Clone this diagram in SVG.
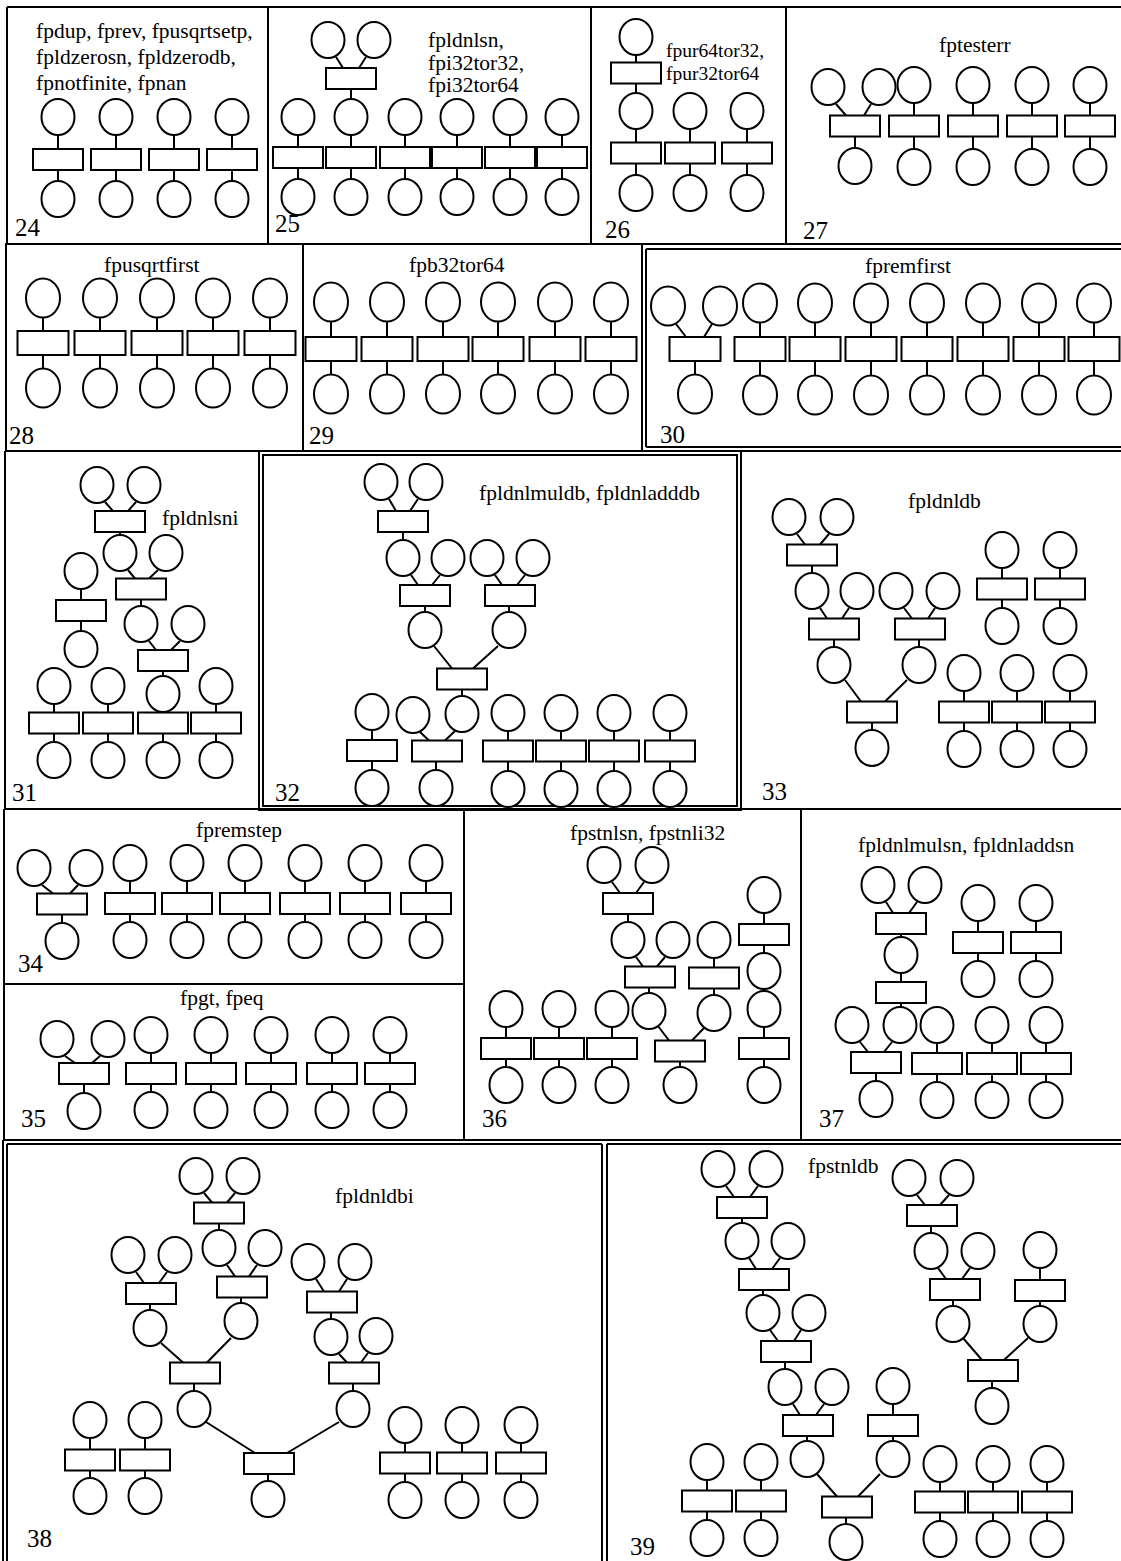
<svg xmlns="http://www.w3.org/2000/svg" xmlns:xlink="http://www.w3.org/1999/xlink" width="1121" height="1561" viewBox="0 0 1121 1561">
<style>
.n use{fill:#fff;stroke:#000;stroke-width:2}
#connectors path,#frame path{fill:none;stroke:#000;stroke-width:2}
text{font-family:"Liberation Serif","Times New Roman",serif;fill:#000}
.lb{font-size:21.5px}
.sm{font-size:19.5px}
.num{font-size:25px}
</style>
<defs>
<ellipse id="c" cx="0" cy="0" rx="16.5" ry="18"/>
<ellipse id="C" cx="0" cy="0" rx="17" ry="19.5"/>
<rect id="r" x="-25" y="-10.5" width="50" height="21"/>
<rect id="R" x="-25.5" y="-12" width="51" height="24"/>
</defs>
<rect x="0" y="0" width="1121" height="1561" fill="#fff"/>
<g id="frame">
<path d="M7 7H1121M7 7V244M268 7V244M591 7V244M786 7V244M5 244H1121"/>
<path d="M6 244V451M303 244V451M642 244V451M646 249V447M646 249H1121M646 447H1121M5 451H1121"/>
<path d="M5 451V809M4 809H1121M259 451V810H741V451M263 455H737V806H263Z"/>
<path d="M4 809V1140M464 809V1140M801 809V1140M4 984H464M3 1140H1121"/>
<path d="M7 1144H602M607 1144H1121M3 1140V1561M7 1144V1561M602 1144V1561M607 1144V1561"/>
</g>
<g id="connectors">
<path d="M58 135V149M58 170V181"/><path d="M116 135V149M116 170V181"/><path d="M174 135V149M174 170V181"/><path d="M232 135V149M232 170V181"/>
<path d="M336 57L343 68M366 57L359 68M351 89V99"/>
<path d="M298 135V147M298 168V179"/><path d="M351 135V147M351 168V179"/><path d="M405 135V147M405 168V179"/><path d="M457 135V147M457 168V179"/><path d="M510 135V147M510 168V179"/><path d="M562 135V147M562 168V179"/>
<path d="M636 55V62.5M636 83.5V93"/>
<path d="M636 129V142.5M636 163.5V175"/><path d="M690 129V142.5M690 163.5V175"/><path d="M747 129V142.5M747 163.5V175"/>
<path d="M836 104L846 115.5M871 104L864 115.5M855 136.5V148"/>
<path d="M914 103V115.5M914 136.5V149"/><path d="M973 103V115.5M973 136.5V149"/><path d="M1032 103V115.5M1032 136.5V149"/><path d="M1090 103V115.5M1090 136.5V149"/>
<path d="M43 317.5V331M43 355V368.5"/><path d="M100 317.5V331M100 355V368.5"/><path d="M157 317.5V331M157 355V368.5"/><path d="M213 317.5V331M213 355V368.5"/><path d="M270 317.5V331M270 355V368.5"/>
<path d="M331 321.5V337M331 361V374.5"/><path d="M387 321.5V337M387 361V374.5"/><path d="M443 321.5V337M443 361V374.5"/><path d="M498 321.5V337M498 361V374.5"/><path d="M555 321.5V337M555 361V374.5"/><path d="M611 321.5V337M611 361V374.5"/>
<path d="M676 324L686 337M712 324L704 337M695 361V374.5"/>
<path d="M760 322.5V337M760 361V375.5"/><path d="M815 322.5V337M815 361V375.5"/><path d="M871 322.5V337M871 361V375.5"/><path d="M927 322.5V337M927 361V375.5"/><path d="M983 322.5V337M983 361V375.5"/><path d="M1039 322.5V337M1039 361V375.5"/><path d="M1094 322.5V337M1094 361V375.5"/>
<path d="M105 502L113 511M136 502L128 511M120 532V535"/>
<path d="M128 570L135 578.5M158 570L149 578.5M141 599.5V606"/>
<path d="M149 641L156 650M180 641L171 650M163 671V676"/>
<path d="M163 712V712.5M163 733.5V742"/>
<path d="M81 589V600M81 621V631"/>
<path d="M54 704V712.5M54 733.5V742"/><path d="M108 704V712.5M108 733.5V742"/><path d="M216 704V712.5M216 733.5V742"/>
<path d="M389 499L396 511M418 499L410 511M403 532V540"/>
<path d="M411 575L418 585M440 575L432 585M425 606V612"/>
<path d="M495 575L502 585M525 575L517 585M509 606V612"/>
<path d="M434 646L452 668.5M498 646L473 668.5M462 689.5V696"/>
<path d="M372 730V740M372 761V770"/>
<path d="M420 732L429 740.5M455 731L445 740.5M436 761.5V770"/>
<path d="M508 731V740.5M508 761.5V771"/><path d="M561 731V740.5M561 761.5V771"/><path d="M614 731V740.5M614 761.5V771"/><path d="M670 731V740.5M670 761.5V771"/>
<path d="M797 534L805 544.5M829 534L820 544.5M812 565.5V573"/>
<path d="M820 608L827 618.5M849 608L842 618.5M834 639.5V647"/>
<path d="M904 608L912 618.5M935 608L928 618.5M919 639.5V647"/>
<path d="M845 680L861 701.5M907 680L885 701.5M872 722.5V730"/>
<path d="M1002 568V578.5M1002 599.5V608"/><path d="M1060 568V578.5M1060 599.5V608"/>
<path d="M964 691V701.5M964 722.5V731"/><path d="M1017 691V701.5M1017 722.5V731"/><path d="M1070 691V701.5M1070 722.5V731"/>
<path d="M42 885L53 893.5M78 885L70 893.5M62 914.5V923"/>
<path d="M130 881V893M130 914V922"/><path d="M187 881V893M187 914V922"/><path d="M245 881V893M245 914V922"/><path d="M305 881V893M305 914V922"/><path d="M365 881V893M365 914V922"/><path d="M426 881V893M426 914V922"/>
<path d="M65 1056L75 1063M100 1056L92 1063M84 1084V1093"/>
<path d="M151 1053V1063M151 1084V1092"/><path d="M211 1053V1063M211 1084V1092"/><path d="M271 1053V1063M271 1084V1092"/><path d="M332 1053V1063M332 1084V1092"/><path d="M390 1053V1063M390 1084V1092"/>
<path d="M612 882L620 893M644 882L636 893M628 914V922"/>
<path d="M636 957L643 966.5M665 957L657 966.5M649 987.5V993"/>
<path d="M714 958V967.5M714 988.5V995"/>
<path d="M658 1026L669 1040.5M704 1028L692 1040.5M680 1061.5V1067"/>
<path d="M764 913V924M764 945V953"/>
<path d="M506 1027V1038M506 1059V1067"/><path d="M559 1027V1038M559 1059V1067"/><path d="M612 1027V1038M612 1059V1067"/><path d="M764 1027V1038M764 1059V1067"/>
<path d="M886 902L893 913M917 902L909 913M901 934V937"/>
<path d="M901 973V982M901 1003V1007"/>
<path d="M860 1042L868 1052M892 1042L884 1052M876 1073V1081"/>
<path d="M978 921V932M978 953V961"/><path d="M1036 921V932M1036 953V961"/>
<path d="M937 1043V1053M937 1074V1082"/><path d="M992 1043V1053M992 1074V1082"/><path d="M1046 1043V1053M1046 1074V1082"/>
<path d="M204 1193L212 1202.5M235 1193L227 1202.5M219 1223.5V1230"/>
<path d="M227 1265L235 1276.5M257 1265L249 1276.5M241 1297.5V1303"/>
<path d="M136 1272L144 1283M167 1272L159 1283M150 1304V1310"/>
<path d="M161 1343L183 1362.5M231 1338L207 1362.5M194 1383.5V1391"/>
<path d="M316 1279L324 1291.5M347 1279L339 1291.5M331 1312.5V1319"/>
<path d="M339 1354L347 1362.5M368 1353L361 1362.5M353 1383.5V1391"/>
<path d="M206 1422L255 1453M339 1422L287 1453M268 1474V1481"/>
<path d="M90 1438V1449.5M90 1470.5V1478"/><path d="M145 1438V1449.5M145 1470.5V1478"/>
<path d="M405 1443V1452.5M405 1473.5V1482"/><path d="M462 1443V1452.5M462 1473.5V1482"/><path d="M521 1443V1452.5M521 1473.5V1482"/>
<path d="M726 1186L734 1197M758 1186L750 1197M742 1218V1223"/>
<path d="M749 1258L756 1269M780 1258L772 1269M763 1290V1295"/>
<path d="M770 1330L778 1341M801 1330L794 1341M785 1362V1369"/>
<path d="M793 1404L800 1415M824 1404L816 1415M807 1436V1441"/>
<path d="M893 1404V1415M893 1436V1441"/>
<path d="M817 1474L837 1496.5M880 1474L858 1496.5M846 1517.5V1524"/>
<path d="M917 1195L925 1205M949 1195L940 1205M931 1226V1233"/>
<path d="M938 1268L946 1279M970 1268L962 1279M953 1300V1306"/>
<path d="M1040 1268V1280M1040 1301V1306"/>
<path d="M963 1338L982 1360M1028 1338L1004 1360M992 1381V1388"/>
<path d="M707 1480V1490.5M707 1511.5V1520"/><path d="M761 1480V1490.5M761 1511.5V1520"/>
<path d="M940 1482V1491.5M940 1512.5V1521"/><path d="M993 1482V1491.5M993 1512.5V1521"/><path d="M1047 1482V1491.5M1047 1512.5V1521"/>
</g>
<g id="p24" class="n">
<g id="p24n1"><use href="#c" x="58" y="117"/></g><g id="p24n2"><use href="#r" x="58" y="159.5"/></g><g id="p24n3"><use href="#c" x="58" y="199"/></g>
<g id="p24n4"><use href="#c" x="116" y="117"/></g><g id="p24n5"><use href="#r" x="116" y="159.5"/></g><g id="p24n6"><use href="#c" x="116" y="199"/></g>
<g id="p24n7"><use href="#c" x="174" y="117"/></g><g id="p24n8"><use href="#r" x="174" y="159.5"/></g><g id="p24n9"><use href="#c" x="174" y="199"/></g>
<g id="p24n10"><use href="#c" x="232" y="117"/></g><g id="p24n11"><use href="#r" x="232" y="159.5"/></g><g id="p24n12"><use href="#c" x="232" y="199"/></g>
</g>
<g id="p25" class="n">
<g id="p25n1"><use href="#c" x="328" y="40"/></g><g id="p25n2"><use href="#c" x="374" y="40"/></g><g id="p25n3"><use href="#r" x="351" y="78.5"/></g>
<g id="p25n4"><use href="#c" x="298" y="117"/></g><g id="p25n5"><use href="#r" x="298" y="157.5"/></g><g id="p25n6"><use href="#c" x="298" y="197"/></g>
<g id="p25n7"><use href="#c" x="351" y="117"/></g><g id="p25n8"><use href="#r" x="351" y="157.5"/></g><g id="p25n9"><use href="#c" x="351" y="197"/></g>
<g id="p25n10"><use href="#c" x="405" y="117"/></g><g id="p25n11"><use href="#r" x="405" y="157.5"/></g><g id="p25n12"><use href="#c" x="405" y="197"/></g>
<g id="p25n13"><use href="#c" x="457" y="117"/></g><g id="p25n14"><use href="#r" x="457" y="157.5"/></g><g id="p25n15"><use href="#c" x="457" y="197"/></g>
<g id="p25n16"><use href="#c" x="510" y="117"/></g><g id="p25n17"><use href="#r" x="510" y="157.5"/></g><g id="p25n18"><use href="#c" x="510" y="197"/></g>
<g id="p25n19"><use href="#c" x="562" y="117"/></g><g id="p25n20"><use href="#r" x="562" y="157.5"/></g><g id="p25n21"><use href="#c" x="562" y="197"/></g>
</g>
<g id="p26" class="n">
<g id="p26n1"><use href="#c" x="636" y="37"/></g><g id="p26n2"><use href="#r" x="636" y="73"/></g>
<g id="p26n3"><use href="#c" x="636" y="111"/></g><g id="p26n4"><use href="#r" x="636" y="153"/></g><g id="p26n5"><use href="#c" x="636" y="193"/></g>
<g id="p26n6"><use href="#c" x="690" y="111"/></g><g id="p26n7"><use href="#r" x="690" y="153"/></g><g id="p26n8"><use href="#c" x="690" y="193"/></g>
<g id="p26n9"><use href="#c" x="747" y="111"/></g><g id="p26n10"><use href="#r" x="747" y="153"/></g><g id="p26n11"><use href="#c" x="747" y="193"/></g>
</g>
<g id="p27" class="n">
<g id="p27n1"><use href="#c" x="828" y="87"/></g><g id="p27n2"><use href="#c" x="879" y="87"/></g><g id="p27n3"><use href="#r" x="855" y="126"/></g><g id="p27n4"><use href="#c" x="855" y="166"/></g>
<g id="p27n5"><use href="#c" x="914" y="85"/></g><g id="p27n6"><use href="#r" x="914" y="126"/></g><g id="p27n7"><use href="#c" x="914" y="167"/></g>
<g id="p27n8"><use href="#c" x="973" y="85"/></g><g id="p27n9"><use href="#r" x="973" y="126"/></g><g id="p27n10"><use href="#c" x="973" y="167"/></g>
<g id="p27n11"><use href="#c" x="1032" y="85"/></g><g id="p27n12"><use href="#r" x="1032" y="126"/></g><g id="p27n13"><use href="#c" x="1032" y="167"/></g>
<g id="p27n14"><use href="#c" x="1090" y="85"/></g><g id="p27n15"><use href="#r" x="1090" y="126"/></g><g id="p27n16"><use href="#c" x="1090" y="167"/></g>
</g>
<g id="p28" class="n">
<g id="p28n1"><use href="#C" x="43" y="298"/></g><g id="p28n2"><use href="#R" x="43" y="343"/></g><g id="p28n3"><use href="#C" x="43" y="388"/></g>
<g id="p28n4"><use href="#C" x="100" y="298"/></g><g id="p28n5"><use href="#R" x="100" y="343"/></g><g id="p28n6"><use href="#C" x="100" y="388"/></g>
<g id="p28n7"><use href="#C" x="157" y="298"/></g><g id="p28n8"><use href="#R" x="157" y="343"/></g><g id="p28n9"><use href="#C" x="157" y="388"/></g>
<g id="p28n10"><use href="#C" x="213" y="298"/></g><g id="p28n11"><use href="#R" x="213" y="343"/></g><g id="p28n12"><use href="#C" x="213" y="388"/></g>
<g id="p28n13"><use href="#C" x="270" y="298"/></g><g id="p28n14"><use href="#R" x="270" y="343"/></g><g id="p28n15"><use href="#C" x="270" y="388"/></g>
</g>
<g id="p29" class="n">
<g id="p29n1"><use href="#C" x="331" y="302"/></g><g id="p29n2"><use href="#R" x="331" y="349"/></g><g id="p29n3"><use href="#C" x="331" y="394"/></g>
<g id="p29n4"><use href="#C" x="387" y="302"/></g><g id="p29n5"><use href="#R" x="387" y="349"/></g><g id="p29n6"><use href="#C" x="387" y="394"/></g>
<g id="p29n7"><use href="#C" x="443" y="302"/></g><g id="p29n8"><use href="#R" x="443" y="349"/></g><g id="p29n9"><use href="#C" x="443" y="394"/></g>
<g id="p29n10"><use href="#C" x="498" y="302"/></g><g id="p29n11"><use href="#R" x="498" y="349"/></g><g id="p29n12"><use href="#C" x="498" y="394"/></g>
<g id="p29n13"><use href="#C" x="555" y="302"/></g><g id="p29n14"><use href="#R" x="555" y="349"/></g><g id="p29n15"><use href="#C" x="555" y="394"/></g>
<g id="p29n16"><use href="#C" x="611" y="302"/></g><g id="p29n17"><use href="#R" x="611" y="349"/></g><g id="p29n18"><use href="#C" x="611" y="394"/></g>
</g>
<g id="p30" class="n">
<g id="p30n1"><use href="#C" x="668" y="306"/></g><g id="p30n2"><use href="#C" x="720" y="306"/></g><g id="p30n3"><use href="#R" x="695" y="349"/></g><g id="p30n4"><use href="#C" x="695" y="394"/></g>
<g id="p30n5"><use href="#C" x="760" y="303"/></g><g id="p30n6"><use href="#R" x="760" y="349"/></g><g id="p30n7"><use href="#C" x="760" y="395"/></g>
<g id="p30n8"><use href="#C" x="815" y="303"/></g><g id="p30n9"><use href="#R" x="815" y="349"/></g><g id="p30n10"><use href="#C" x="815" y="395"/></g>
<g id="p30n11"><use href="#C" x="871" y="303"/></g><g id="p30n12"><use href="#R" x="871" y="349"/></g><g id="p30n13"><use href="#C" x="871" y="395"/></g>
<g id="p30n14"><use href="#C" x="927" y="303"/></g><g id="p30n15"><use href="#R" x="927" y="349"/></g><g id="p30n16"><use href="#C" x="927" y="395"/></g>
<g id="p30n17"><use href="#C" x="983" y="303"/></g><g id="p30n18"><use href="#R" x="983" y="349"/></g><g id="p30n19"><use href="#C" x="983" y="395"/></g>
<g id="p30n20"><use href="#C" x="1039" y="303"/></g><g id="p30n21"><use href="#R" x="1039" y="349"/></g><g id="p30n22"><use href="#C" x="1039" y="395"/></g>
<g id="p30n23"><use href="#C" x="1094" y="303"/></g><g id="p30n24"><use href="#R" x="1094" y="349"/></g><g id="p30n25"><use href="#C" x="1094" y="395"/></g>
</g>
<g id="p31" class="n">
<g id="p31n1"><use href="#c" x="97" y="485"/></g><g id="p31n2"><use href="#c" x="144" y="485"/></g><g id="p31n3"><use href="#r" x="120" y="521.5"/></g>
<g id="p31n4"><use href="#c" x="120" y="553"/></g><g id="p31n5"><use href="#c" x="166" y="553"/></g><g id="p31n6"><use href="#r" x="141" y="589"/></g>
<g id="p31n7"><use href="#c" x="141" y="624"/></g><g id="p31n8"><use href="#c" x="188" y="624"/></g><g id="p31n9"><use href="#r" x="163" y="660.5"/></g>
<g id="p31n10"><use href="#c" x="163" y="694"/></g><g id="p31n11"><use href="#r" x="163" y="723"/></g><g id="p31n12"><use href="#c" x="163" y="760"/></g>
<g id="p31n13"><use href="#c" x="81" y="571"/></g><g id="p31n14"><use href="#r" x="81" y="610.5"/></g><g id="p31n15"><use href="#c" x="81" y="649"/></g>
<g id="p31n16"><use href="#c" x="54" y="686"/></g><g id="p31n17"><use href="#r" x="54" y="723"/></g><g id="p31n18"><use href="#c" x="54" y="760"/></g>
<g id="p31n19"><use href="#c" x="108" y="686"/></g><g id="p31n20"><use href="#r" x="108" y="723"/></g><g id="p31n21"><use href="#c" x="108" y="760"/></g>
<g id="p31n22"><use href="#c" x="216" y="686"/></g><g id="p31n23"><use href="#r" x="216" y="723"/></g><g id="p31n24"><use href="#c" x="216" y="760"/></g>
</g>
<g id="p32" class="n">
<g id="p32n1"><use href="#c" x="381" y="482"/></g><g id="p32n2"><use href="#c" x="426" y="482"/></g><g id="p32n3"><use href="#r" x="403" y="521.5"/></g>
<g id="p32n4"><use href="#c" x="403" y="558"/></g><g id="p32n5"><use href="#c" x="448" y="558"/></g><g id="p32n6"><use href="#r" x="425" y="595.5"/></g><g id="p32n7"><use href="#c" x="425" y="630"/></g>
<g id="p32n8"><use href="#c" x="487" y="558"/></g><g id="p32n9"><use href="#c" x="533" y="558"/></g><g id="p32n10"><use href="#r" x="510" y="595.5"/></g><g id="p32n11"><use href="#c" x="509" y="630"/></g>
<g id="p32n12"><use href="#r" x="462" y="679"/></g><g id="p32n13"><use href="#c" x="462" y="714"/></g>
<g id="p32n14"><use href="#c" x="372" y="712"/></g><g id="p32n15"><use href="#r" x="372" y="750.5"/></g><g id="p32n16"><use href="#c" x="372" y="788"/></g>
<g id="p32n17"><use href="#c" x="413" y="715"/></g><g id="p32n18"><use href="#r" x="437" y="751"/></g><g id="p32n19"><use href="#c" x="436" y="788"/></g>
<g id="p32n20"><use href="#c" x="508" y="713"/></g><g id="p32n21"><use href="#r" x="508" y="751"/></g><g id="p32n22"><use href="#c" x="508" y="789"/></g>
<g id="p32n23"><use href="#c" x="561" y="713"/></g><g id="p32n24"><use href="#r" x="561" y="751"/></g><g id="p32n25"><use href="#c" x="561" y="789"/></g>
<g id="p32n26"><use href="#c" x="614" y="713"/></g><g id="p32n27"><use href="#r" x="614" y="751"/></g><g id="p32n28"><use href="#c" x="614" y="789"/></g>
<g id="p32n29"><use href="#c" x="670" y="713"/></g><g id="p32n30"><use href="#r" x="670" y="751"/></g><g id="p32n31"><use href="#c" x="670" y="789"/></g>
</g>
<g id="p33" class="n">
<g id="p33n1"><use href="#c" x="789" y="517"/></g><g id="p33n2"><use href="#c" x="837" y="517"/></g><g id="p33n3"><use href="#r" x="812" y="555"/></g>
<g id="p33n4"><use href="#c" x="812" y="591"/></g><g id="p33n5"><use href="#c" x="857" y="591"/></g><g id="p33n6"><use href="#r" x="834" y="629"/></g><g id="p33n7"><use href="#c" x="834" y="665"/></g>
<g id="p33n8"><use href="#c" x="896" y="591"/></g><g id="p33n9"><use href="#c" x="943" y="591"/></g><g id="p33n10"><use href="#r" x="920" y="629"/></g><g id="p33n11"><use href="#c" x="919" y="665"/></g>
<g id="p33n12"><use href="#r" x="872" y="712"/></g><g id="p33n13"><use href="#c" x="872" y="748"/></g>
<g id="p33n14"><use href="#c" x="1002" y="550"/></g><g id="p33n15"><use href="#r" x="1002" y="589"/></g><g id="p33n16"><use href="#c" x="1002" y="626"/></g>
<g id="p33n17"><use href="#c" x="1060" y="550"/></g><g id="p33n18"><use href="#r" x="1060" y="589"/></g><g id="p33n19"><use href="#c" x="1060" y="626"/></g>
<g id="p33n20"><use href="#c" x="964" y="673"/></g><g id="p33n21"><use href="#r" x="964" y="712"/></g><g id="p33n22"><use href="#c" x="964" y="749"/></g>
<g id="p33n23"><use href="#c" x="1017" y="673"/></g><g id="p33n24"><use href="#r" x="1017" y="712"/></g><g id="p33n25"><use href="#c" x="1017" y="749"/></g>
<g id="p33n26"><use href="#c" x="1070" y="673"/></g><g id="p33n27"><use href="#r" x="1070" y="712"/></g><g id="p33n28"><use href="#c" x="1070" y="749"/></g>
</g>
<g id="p34" class="n">
<g id="p34n1"><use href="#c" x="34" y="868"/></g><g id="p34n2"><use href="#c" x="86" y="868"/></g><g id="p34n3"><use href="#r" x="62" y="904"/></g><g id="p34n4"><use href="#c" x="62" y="941"/></g>
<g id="p34n5"><use href="#c" x="130" y="863"/></g><g id="p34n6"><use href="#r" x="130" y="903.5"/></g><g id="p34n7"><use href="#c" x="130" y="940"/></g>
<g id="p34n8"><use href="#c" x="187" y="863"/></g><g id="p34n9"><use href="#r" x="187" y="903.5"/></g><g id="p34n10"><use href="#c" x="187" y="940"/></g>
<g id="p34n11"><use href="#c" x="245" y="863"/></g><g id="p34n12"><use href="#r" x="245" y="903.5"/></g><g id="p34n13"><use href="#c" x="245" y="940"/></g>
<g id="p34n14"><use href="#c" x="305" y="863"/></g><g id="p34n15"><use href="#r" x="305" y="903.5"/></g><g id="p34n16"><use href="#c" x="305" y="940"/></g>
<g id="p34n17"><use href="#c" x="365" y="863"/></g><g id="p34n18"><use href="#r" x="365" y="903.5"/></g><g id="p34n19"><use href="#c" x="365" y="940"/></g>
<g id="p34n20"><use href="#c" x="426" y="863"/></g><g id="p34n21"><use href="#r" x="426" y="903.5"/></g><g id="p34n22"><use href="#c" x="426" y="940"/></g>
</g>
<g id="p35" class="n">
<g id="p35n1"><use href="#c" x="57" y="1039"/></g><g id="p35n2"><use href="#c" x="108" y="1039"/></g><g id="p35n3"><use href="#r" x="84" y="1073.5"/></g><g id="p35n4"><use href="#c" x="84" y="1111"/></g>
<g id="p35n5"><use href="#c" x="151" y="1035"/></g><g id="p35n6"><use href="#r" x="151" y="1073.5"/></g><g id="p35n7"><use href="#c" x="151" y="1110"/></g>
<g id="p35n8"><use href="#c" x="211" y="1035"/></g><g id="p35n9"><use href="#r" x="211" y="1073.5"/></g><g id="p35n10"><use href="#c" x="211" y="1110"/></g>
<g id="p35n11"><use href="#c" x="271" y="1035"/></g><g id="p35n12"><use href="#r" x="271" y="1073.5"/></g><g id="p35n13"><use href="#c" x="271" y="1110"/></g>
<g id="p35n14"><use href="#c" x="332" y="1035"/></g><g id="p35n15"><use href="#r" x="332" y="1073.5"/></g><g id="p35n16"><use href="#c" x="332" y="1110"/></g>
<g id="p35n17"><use href="#c" x="390" y="1035"/></g><g id="p35n18"><use href="#r" x="390" y="1073.5"/></g><g id="p35n19"><use href="#c" x="390" y="1110"/></g>
</g>
<g id="p36" class="n">
<g id="p36n1"><use href="#c" x="604" y="865"/></g><g id="p36n2"><use href="#c" x="652" y="865"/></g><g id="p36n3"><use href="#r" x="628" y="903.5"/></g>
<g id="p36n4"><use href="#c" x="628" y="940"/></g><g id="p36n5"><use href="#c" x="673" y="940"/></g><g id="p36n6"><use href="#r" x="650" y="977"/></g><g id="p36n7"><use href="#c" x="649" y="1011"/></g>
<g id="p36n8"><use href="#c" x="714" y="940"/></g><g id="p36n9"><use href="#r" x="714" y="978"/></g><g id="p36n10"><use href="#c" x="714" y="1013"/></g>
<g id="p36n11"><use href="#r" x="680" y="1051"/></g><g id="p36n12"><use href="#c" x="680" y="1085"/></g>
<g id="p36n13"><use href="#c" x="764" y="895"/></g><g id="p36n14"><use href="#r" x="764" y="934.5"/></g><g id="p36n15"><use href="#c" x="764" y="971"/></g>
<g id="p36n16"><use href="#c" x="506" y="1009"/></g><g id="p36n17"><use href="#r" x="506" y="1048.5"/></g><g id="p36n18"><use href="#c" x="506" y="1085"/></g>
<g id="p36n19"><use href="#c" x="559" y="1009"/></g><g id="p36n20"><use href="#r" x="559" y="1048.5"/></g><g id="p36n21"><use href="#c" x="559" y="1085"/></g>
<g id="p36n22"><use href="#c" x="612" y="1009"/></g><g id="p36n23"><use href="#r" x="612" y="1048.5"/></g><g id="p36n24"><use href="#c" x="612" y="1085"/></g>
<g id="p36n25"><use href="#c" x="764" y="1009"/></g><g id="p36n26"><use href="#r" x="764" y="1048.5"/></g><g id="p36n27"><use href="#c" x="764" y="1085"/></g>
</g>
<g id="p37" class="n">
<g id="p37n1"><use href="#c" x="878" y="885"/></g><g id="p37n2"><use href="#c" x="925" y="885"/></g><g id="p37n3"><use href="#r" x="901" y="923.5"/></g>
<g id="p37n4"><use href="#c" x="901" y="955"/></g><g id="p37n5"><use href="#r" x="901" y="992.5"/></g><g id="p37n6"><use href="#c" x="900" y="1025"/></g>
<g id="p37n7"><use href="#c" x="852" y="1025"/></g><g id="p37n8"><use href="#r" x="876" y="1062.5"/></g><g id="p37n9"><use href="#c" x="876" y="1099"/></g>
<g id="p37n10"><use href="#c" x="978" y="903"/></g><g id="p37n11"><use href="#r" x="978" y="942.5"/></g><g id="p37n12"><use href="#c" x="978" y="979"/></g>
<g id="p37n13"><use href="#c" x="1036" y="903"/></g><g id="p37n14"><use href="#r" x="1036" y="942.5"/></g><g id="p37n15"><use href="#c" x="1036" y="979"/></g>
<g id="p37n16"><use href="#c" x="937" y="1025"/></g><g id="p37n17"><use href="#r" x="937" y="1063.5"/></g><g id="p37n18"><use href="#c" x="937" y="1100"/></g>
<g id="p37n19"><use href="#c" x="992" y="1025"/></g><g id="p37n20"><use href="#r" x="992" y="1063.5"/></g><g id="p37n21"><use href="#c" x="992" y="1100"/></g>
<g id="p37n22"><use href="#c" x="1046" y="1025"/></g><g id="p37n23"><use href="#r" x="1046" y="1063.5"/></g><g id="p37n24"><use href="#c" x="1046" y="1100"/></g>
</g>
<g id="p38" class="n">
<g id="p38n1"><use href="#c" x="196" y="1176"/></g><g id="p38n2"><use href="#c" x="243" y="1176"/></g><g id="p38n3"><use href="#r" x="219" y="1213"/></g>
<g id="p38n4"><use href="#c" x="219" y="1248"/></g><g id="p38n5"><use href="#c" x="265" y="1248"/></g><g id="p38n6"><use href="#r" x="242" y="1287"/></g><g id="p38n7"><use href="#c" x="241" y="1321"/></g>
<g id="p38n8"><use href="#c" x="128" y="1255"/></g><g id="p38n9"><use href="#c" x="175" y="1255"/></g><g id="p38n10"><use href="#r" x="151" y="1293.5"/></g><g id="p38n11"><use href="#c" x="150" y="1328"/></g>
<g id="p38n12"><use href="#r" x="195" y="1373"/></g><g id="p38n13"><use href="#c" x="194" y="1409"/></g>
<g id="p38n14"><use href="#c" x="308" y="1262"/></g><g id="p38n15"><use href="#c" x="355" y="1262"/></g><g id="p38n16"><use href="#r" x="332" y="1302"/></g><g id="p38n17"><use href="#c" x="331" y="1337"/></g>
<g id="p38n18"><use href="#c" x="376" y="1336"/></g><g id="p38n19"><use href="#r" x="354" y="1373"/></g><g id="p38n20"><use href="#c" x="353" y="1409"/></g>
<g id="p38n21"><use href="#r" x="269" y="1463.5"/></g><g id="p38n22"><use href="#c" x="268" y="1499"/></g>
<g id="p38n23"><use href="#c" x="90" y="1420"/></g><g id="p38n24"><use href="#r" x="90" y="1460"/></g><g id="p38n25"><use href="#c" x="90" y="1496"/></g>
<g id="p38n26"><use href="#c" x="145" y="1420"/></g><g id="p38n27"><use href="#r" x="145" y="1460"/></g><g id="p38n28"><use href="#c" x="145" y="1496"/></g>
<g id="p38n29"><use href="#c" x="405" y="1425"/></g><g id="p38n30"><use href="#r" x="405" y="1463"/></g><g id="p38n31"><use href="#c" x="405" y="1500"/></g>
<g id="p38n32"><use href="#c" x="462" y="1425"/></g><g id="p38n33"><use href="#r" x="462" y="1463"/></g><g id="p38n34"><use href="#c" x="462" y="1500"/></g>
<g id="p38n35"><use href="#c" x="521" y="1425"/></g><g id="p38n36"><use href="#r" x="521" y="1463"/></g><g id="p38n37"><use href="#c" x="521" y="1500"/></g>
</g>
<g id="p39" class="n">
<g id="p39n1"><use href="#c" x="718" y="1169"/></g><g id="p39n2"><use href="#c" x="766" y="1169"/></g><g id="p39n3"><use href="#r" x="742" y="1207.5"/></g>
<g id="p39n4"><use href="#c" x="742" y="1241"/></g><g id="p39n5"><use href="#c" x="788" y="1241"/></g><g id="p39n6"><use href="#r" x="764" y="1279.5"/></g>
<g id="p39n7"><use href="#c" x="763" y="1313"/></g><g id="p39n8"><use href="#c" x="809" y="1313"/></g><g id="p39n9"><use href="#r" x="786" y="1351.5"/></g>
<g id="p39n10"><use href="#c" x="785" y="1387"/></g><g id="p39n11"><use href="#c" x="832" y="1387"/></g><g id="p39n12"><use href="#r" x="808" y="1425.5"/></g><g id="p39n13"><use href="#c" x="807" y="1459"/></g>
<g id="p39n14"><use href="#c" x="893" y="1386"/></g><g id="p39n15"><use href="#r" x="893" y="1425.5"/></g><g id="p39n16"><use href="#c" x="893" y="1459"/></g>
<g id="p39n17"><use href="#r" x="847" y="1507"/></g><g id="p39n18"><use href="#c" x="846" y="1542"/></g>
<g id="p39n19"><use href="#c" x="909" y="1178"/></g><g id="p39n20"><use href="#c" x="957" y="1178"/></g><g id="p39n21"><use href="#r" x="932" y="1215.5"/></g>
<g id="p39n22"><use href="#c" x="931" y="1251"/></g><g id="p39n23"><use href="#c" x="978" y="1251"/></g><g id="p39n24"><use href="#r" x="955" y="1289.5"/></g><g id="p39n25"><use href="#c" x="953" y="1324"/></g>
<g id="p39n26"><use href="#c" x="1040" y="1250"/></g><g id="p39n27"><use href="#r" x="1040" y="1290.5"/></g><g id="p39n28"><use href="#c" x="1040" y="1324"/></g>
<g id="p39n29"><use href="#r" x="993" y="1370.5"/></g><g id="p39n30"><use href="#c" x="992" y="1406"/></g>
<g id="p39n31"><use href="#c" x="707" y="1462"/></g><g id="p39n32"><use href="#r" x="707" y="1501"/></g><g id="p39n33"><use href="#c" x="707" y="1538"/></g>
<g id="p39n34"><use href="#c" x="761" y="1462"/></g><g id="p39n35"><use href="#r" x="761" y="1501"/></g><g id="p39n36"><use href="#c" x="761" y="1538"/></g>
<g id="p39n37"><use href="#c" x="940" y="1464"/></g><g id="p39n38"><use href="#r" x="940" y="1502"/></g><g id="p39n39"><use href="#c" x="940" y="1539"/></g>
<g id="p39n40"><use href="#c" x="993" y="1464"/></g><g id="p39n41"><use href="#r" x="993" y="1502"/></g><g id="p39n42"><use href="#c" x="993" y="1539"/></g>
<g id="p39n43"><use href="#c" x="1047" y="1464"/></g><g id="p39n44"><use href="#r" x="1047" y="1502"/></g><g id="p39n45"><use href="#c" x="1047" y="1539"/></g>
</g>
<g id="labels">
<text class="lb" x="36" y="38">fpdup, fprev, fpusqrtsetp,</text>
<text class="lb" x="36" y="64">fpldzerosn, fpldzerodb,</text>
<text class="lb" x="36" y="90">fpnotfinite, fpnan</text>
<text class="lb" x="428" y="47">fpldnlsn,</text>
<text class="lb" x="428" y="69.5">fpi32tor32,</text>
<text class="lb" x="428" y="92">fpi32tor64</text>
<text class="sm" x="666" y="57">fpur64tor32,</text>
<text class="sm" x="666" y="80">fpur32tor64</text>
<text class="lb" x="939" y="52">fptesterr</text>
<text class="lb" x="104" y="272">fpusqrtfirst</text>
<text class="lb" x="409" y="272">fpb32tor64</text>
<text class="lb" x="865" y="273">fpremfirst</text>
<text class="lb" x="162" y="525">fpldnlsni</text>
<text class="lb" x="479" y="500">fpldnlmuldb, fpldnladddb</text>
<text class="lb" x="908" y="508">fpldnldb</text>
<text class="lb" x="196" y="837">fpremstep</text>
<text class="lb" x="180" y="1005">fpgt, fpeq</text>
<text class="lb" x="570" y="840">fpstnlsn, fpstnli32</text>
<text class="lb" x="858" y="852">fpldnlmulsn, fpldnladdsn</text>
<text class="lb" x="335" y="1203">fpldnldbi</text>
<text class="lb" x="808" y="1173">fpstnldb</text>
<text class="num" x="15" y="236">24</text>
<text class="num" x="275" y="232">25</text>
<text class="num" x="605" y="238">26</text>
<text class="num" x="803" y="239">27</text>
<text class="num" x="9" y="444">28</text>
<text class="num" x="309" y="444">29</text>
<text class="num" x="660" y="443">30</text>
<text class="num" x="12" y="801">31</text>
<text class="num" x="275" y="801">32</text>
<text class="num" x="762" y="800">33</text>
<text class="num" x="18" y="972">34</text>
<text class="num" x="21" y="1127">35</text>
<text class="num" x="482" y="1127">36</text>
<text class="num" x="819" y="1127">37</text>
<text class="num" x="27" y="1547">38</text>
<text class="num" x="630" y="1555">39</text>
</g>
</svg>
